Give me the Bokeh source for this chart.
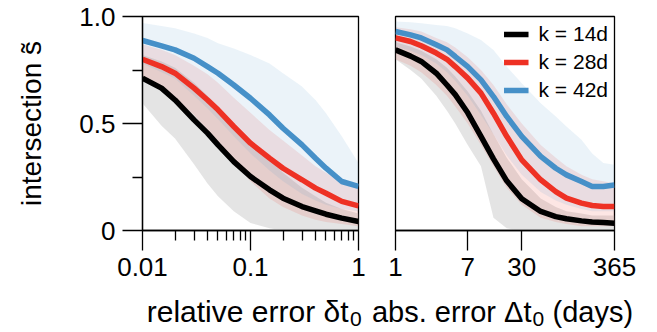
from bokeh.plotting import figure
from bokeh.layouts import row, column
from bokeh.models import Range1d, FixedTicker, CustomJSTickFormatter, Legend, LegendItem
from bokeh.core.properties import value
from bokeh.embed import file_html
from bokeh.resources import INLINE

# ---------------- data ----------------
# left panel: relative error
x1 = [0.01, 0.015, 0.02, 0.03, 0.04, 0.05, 0.07, 0.1, 0.15, 0.2, 0.3, 0.4, 0.5, 0.7, 1.0]
black1 = [0.712, 0.665, 0.61, 0.517, 0.455, 0.40, 0.322, 0.252, 0.19, 0.151, 0.112, 0.092, 0.076, 0.058, 0.042]
red1 = [0.80, 0.766, 0.735, 0.665, 0.61, 0.564, 0.486, 0.408, 0.338, 0.291, 0.237, 0.198, 0.174, 0.136, 0.115]
blue1 = [0.888, 0.863, 0.844, 0.805, 0.766, 0.735, 0.68, 0.618, 0.54, 0.478, 0.40, 0.338, 0.291, 0.229, 0.206]
grey_lo1 = [0.595, 0.49, 0.43, 0.31, 0.22, 0.16, 0.09, 0.035, 0.01, 0, 0, 0, 0, 0, 0]
grey_hi1 = [0.82, 0.79, 0.76, 0.69, 0.63, 0.58, 0.50, 0.42, 0.33, 0.27, 0.20, 0.16, 0.13, 0.10, 0.08]
red_lo1 = [0.70, 0.66, 0.62, 0.54, 0.47, 0.41, 0.32, 0.23, 0.15, 0.11, 0.07, 0.05, 0.04, 0.03, 0.02]
red_hi1 = [0.87, 0.845, 0.82, 0.77, 0.73, 0.69, 0.62, 0.55, 0.47, 0.42, 0.35, 0.30, 0.27, 0.23, 0.21]
blue_lo1 = [0.78, 0.74, 0.71, 0.63, 0.57, 0.52, 0.44, 0.36, 0.28, 0.23, 0.17, 0.14, 0.12, 0.10, 0.09]
blue_hi1 = [0.97, 0.956, 0.945, 0.92, 0.90, 0.875, 0.85, 0.82, 0.78, 0.735, 0.673, 0.61, 0.548, 0.44, 0.315]

# right panel: absolute error (days)
x2 = [1, 1.5, 2, 3, 4, 5, 7, 10, 14, 20, 30, 50, 75, 100, 150, 200, 270, 365]
black2 = [0.844, 0.815, 0.79, 0.735, 0.68, 0.635, 0.55, 0.44, 0.335, 0.232, 0.148, 0.089, 0.065, 0.055, 0.045, 0.04, 0.037, 0.034]
red2 = [0.90, 0.883, 0.863, 0.829, 0.80, 0.766, 0.712, 0.642, 0.548, 0.44, 0.33, 0.237, 0.182, 0.151, 0.128, 0.117, 0.112, 0.112]
blue2 = [0.93, 0.914, 0.90, 0.868, 0.844, 0.813, 0.766, 0.704, 0.626, 0.533, 0.44, 0.346, 0.291, 0.26, 0.229, 0.206, 0.206, 0.213]
grey_lo2 = [0.80, 0.75, 0.71, 0.63, 0.56, 0.50, 0.40, 0.30, 0.06, 0.01, 0, 0, 0, 0, 0, 0, 0, 0]
grey_hi2 = [0.88, 0.86, 0.84, 0.80, 0.76, 0.72, 0.65, 0.56, 0.45, 0.34, 0.24, 0.15, 0.11, 0.09, 0.08, 0.07, 0.07, 0.07]
red_lo2 = [0.80, 0.77, 0.74, 0.68, 0.63, 0.58, 0.50, 0.40, 0.30, 0.20, 0.12, 0.06, 0.04, 0.03, 0.02, 0.02, 0.02, 0.02]
red_hi2 = [0.95, 0.94, 0.93, 0.90, 0.88, 0.855, 0.81, 0.75, 0.68, 0.59, 0.50, 0.40, 0.34, 0.30, 0.26, 0.24, 0.23, 0.22]
blue_lo2 = [0.86, 0.84, 0.82, 0.78, 0.74, 0.70, 0.63, 0.54, 0.45, 0.35, 0.26, 0.18, 0.14, 0.12, 0.10, 0.09, 0.09, 0.09]
blue_hi2 = [0.977, 0.973, 0.969, 0.96, 0.956, 0.945, 0.92, 0.89, 0.844, 0.766, 0.688, 0.595, 0.533, 0.486, 0.424, 0.36, 0.315, 0.307]

series_labels = ["k = 14d", "k = 28d", "k = 42d"]
y_ticks = [0, 0.5, 1]
y_minor = [0.25, 0.75]
y_tick_labels = ["0", "0.5", "1.0"]
x1_ticks = [0.01, 0.1, 1]
x2_ticks = [1, 7, 30, 365]
x1_label = ("relative error δt", "0", "")
x2_label = ("abs. error Δt", "0", "(days)")
y_label = "intersection s\u0303"

# ---------------- style ----------------
FONT = "Liberation Sans"
C_BLACK = "#000000"
C_RED = "#ee3124"
C_BLUE = "#4690c8"
B_GREY = "#b8b8b8"
TICK_FS = "26px"
LABEL_FS = "30px"
LABEL_FS2 = "29px"
SUB_FS = "21px"
TOP_H = 292


def style_axis(ax):
    ax.axis_line_color = "black"
    ax.axis_line_width = 1.3
    ax.major_tick_line_color = "black"
    ax.major_tick_line_width = 1.3
    ax.minor_tick_line_color = "black"
    ax.minor_tick_line_width = 1.3
    ax.major_tick_in = 0
    ax.major_tick_out = 20
    ax.minor_tick_in = 0
    ax.minor_tick_out = 10
    ax.major_label_text_font = FONT
    ax.major_label_text_font_size = TICK_FS
    ax.major_label_text_color = "black"
    ax.axis_label_text_font = FONT
    ax.axis_label_text_font_size = "28px"
    ax.axis_label_text_font_style = "normal"
    ax.axis_label_text_color = "black"


def base_fig(xr, width, mbl, mbr):
    p = figure(width=width, height=TOP_H, x_axis_type="log", x_range=xr,
               y_range=Range1d(0, 1), output_backend="svg", toolbar_location=None,
               min_border_left=mbl, min_border_right=mbr, min_border_top=16,
               min_border_bottom=TOP_H - 16 - 214)
    p.xgrid.visible = False
    p.ygrid.visible = False
    p.outline_line_color = "black"
    p.outline_line_width = 1.3
    p.background_fill_color = "white"
    p.border_fill_color = "white"
    return p


def draw(p, x, bands, lines):
    for lo, hi, col, a in bands:
        p.varea(x=x, y1=lo, y2=hi, fill_color=col, fill_alpha=a)
    rs = []
    for y, col in lines:
        rs.append(p.line(x, y, line_color=col, line_width=5.5))
    return rs


# ---------- left panel ----------
p1 = base_fig(Range1d(0.01, 1), 368, 142, 10)
draw(p1, x1,
     [(grey_lo1, grey_hi1, B_GREY, 0.38), (red_lo1, red_hi1, C_RED, 0.12), (blue_lo1, blue_hi1, C_BLUE, 0.11)],
     [(black1, C_BLACK), (red1, C_RED), (blue1, C_BLUE)])
minor1 = [m * d for d in (0.01, 0.1) for m in range(2, 10)]
p1.xaxis.ticker = FixedTicker(ticks=x1_ticks, minor_ticks=minor1)
p1.xaxis.formatter = CustomJSTickFormatter(code="return tick.toString();")
p1.yaxis.ticker = FixedTicker(ticks=y_ticks, minor_ticks=y_minor)
p1.yaxis.formatter = CustomJSTickFormatter(args=dict(t=y_ticks, l=y_tick_labels),
                                           code="const i = t.indexOf(tick); return i >= 0 ? l[i] : '';")
p1.yaxis.axis_label = y_label
for ax in (p1.xaxis[0], p1.yaxis[0]):
    style_axis(ax)
p1.xaxis.major_label_standoff = 7
p1.yaxis.major_label_standoff = 7
p1.yaxis.axis_label_standoff = 29

# ---------- right panel ----------
p2 = base_fig(Range1d(1, 365), 276, 27, 30)
rs = draw(p2, x2,
          [(grey_lo2, grey_hi2, B_GREY, 0.38), (red_lo2, red_hi2, C_RED, 0.12), (blue_lo2, blue_hi2, C_BLUE, 0.11)],
          [(black2, C_BLACK), (red2, C_RED), (blue2, C_BLUE)])
p2.xaxis.ticker = FixedTicker(ticks=x2_ticks, minor_ticks=[])
p2.xaxis.formatter = CustomJSTickFormatter(code="return tick.toString();")
style_axis(p2.xaxis[0])
p2.xaxis.major_label_standoff = 7
p2.yaxis.visible = False

legend = Legend(items=[LegendItem(label=lab, renderers=[r]) for lab, r in zip(series_labels, rs)],
                location="top_right")
legend.background_fill_alpha = 0
legend.border_line_alpha = 0
legend.label_text_font = FONT
legend.label_text_font_size = "21px"
legend.label_text_color = "black"
legend.glyph_width = 25
legend.glyph_height = 20
legend.label_height = 20
legend.spacing = 4
legend.padding = 4
legend.margin = 2
legend.label_standoff = 10
p2.add_layout(legend)

# ---------- axis titles strip (pixel coordinates of the strip, origin at its top) ----------
STRIP_H = 332 - TOP_H
p3 = figure(width=644, height=STRIP_H, x_range=Range1d(0, 644), y_range=Range1d(STRIP_H, 0),
            output_backend="svg", toolbar_location=None, title=None,
            min_border=0, min_border_left=0, min_border_right=0, min_border_top=0, min_border_bottom=0,
            x_axis_location=None, y_axis_location=None)
p3.grid.visible = False
p3.outline_line_color = None
p3.border_fill_color = "white"


def put(x, y, t, align, size):
    p3.text(x=[x], y=[y], text=[t], text_align=align, text_baseline="alphabetic",
            text_font=value(FONT), text_font_size=value(size), text_color="black")


# baselines: main text 321 px, subscript 328 px on the page; strip starts at TOP_H
put(348, 321 - TOP_H - 10, x1_label[0], "right", LABEL_FS)
put(349.5, 328 - TOP_H - 10, x1_label[1], "left", SUB_FS)
put(531, 321 - TOP_H - 10, x2_label[0], "right", LABEL_FS2)
put(532, 328 - TOP_H - 10, x2_label[1], "left", SUB_FS)
put(552, 321 - TOP_H - 10, x2_label[2], "left", LABEL_FS2)

layout = column(row(p1, p2), p3)
open("out.html", "w").write(file_html(layout, INLINE))
